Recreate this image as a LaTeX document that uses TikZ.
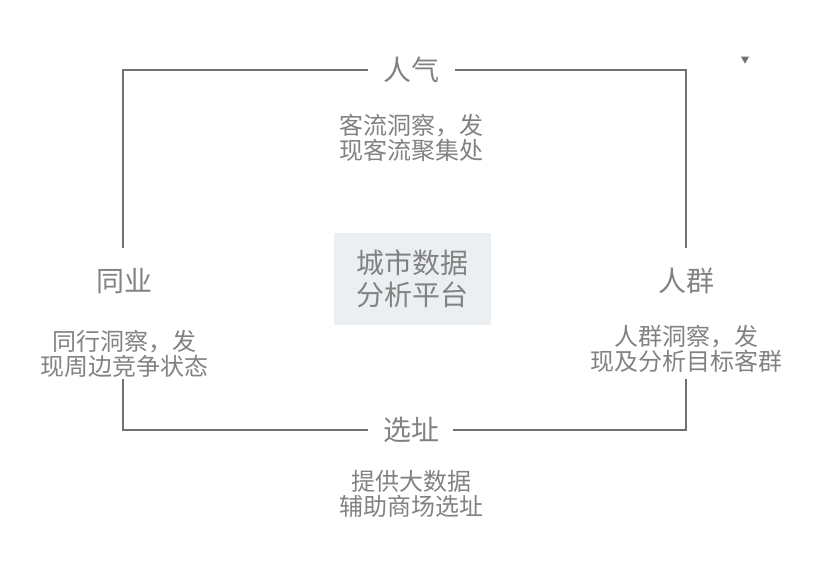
\documentclass[tikz,border=0pt]{standalone}
\usepackage{fontspec}
\usetikzlibrary{shapes.geometric}
\newfontfamily\cjk{Noto Sans CJK SC}
\definecolor{framec}{HTML}{6E7176}
\definecolor{txtc}{HTML}{828282}
\definecolor{boxc}{HTML}{ECEFF2}
\tikzset{
  frame/.style={draw=framec, line width=2pt},
  biglabel/.style={inner sep=0pt, text=txtc, font=\cjk\fontsize{28}{30}\selectfont},
  desc/.style={inner sep=0pt, text=txtc, align=center, font=\cjk\fontsize{24}{25}\selectfont},
  centerbox/.style={fill=boxc, minimum width=157pt, minimum height=92pt, inner sep=0pt, text=txtc, align=center, font=\cjk\fontsize{28}{32}\selectfont},
}
\begin{document}
\begin{tikzpicture}[x=1pt,y=-1pt]
\useasboundingbox (0,0) rectangle (824,560);
% labels
\node[biglabel] (renqi) at (411,70) {人气};
\node[desc] (renqid) at (411,138) {客流洞察，发\\现客流聚集处};
\node[biglabel] (tongye) at (124,281) {同业};
\node[desc] (tongyed) at (124,354) {同行洞察，发\\现周边竞争状态};
\node[biglabel] (renqun) at (686,281) {人群};
\node[desc] (renqund) at (686,349) {人群洞察，发\\现及分析目标客群};
\node[biglabel] (xuanzhi) at (411,430) {选址};
\node[desc] (xuanzhid) at (411,494) {提供大数据\\辅助商场选址};
\node[centerbox] (center) at (412.5,279) {城市数据\\分析平台};
% frame coordinates
\coordinate (tl) at (123,70);
\coordinate (tr) at (686,70);
\coordinate (bl) at (123,430);
\coordinate (br) at (686,430);
\coordinate (tgl) at (368,70);
\coordinate (tgr) at (455,70);
\coordinate (bgl) at (368,430);
\coordinate (bgr) at (453,430);
\coordinate (lgt) at (123,248);
\coordinate (lgb) at (123,379);
\coordinate (rgt) at (686,248);
\coordinate (rgb) at (686,379);
\draw[frame] (tgl) -- (tl) -- (lgt);
\draw[frame] (tgr) -- (tr) -- (rgt);
\draw[frame] (lgb) -- (bl) -- (bgl);
\draw[frame] (rgb) -- (br) -- (bgr);
% small marker
\node[fill=framec, isosceles triangle, isosceles triangle apex angle=60, shape border rotate=-90, inner sep=0pt, minimum size=7pt] (mark) at (745,59) {};
\end{tikzpicture}
\end{document}
